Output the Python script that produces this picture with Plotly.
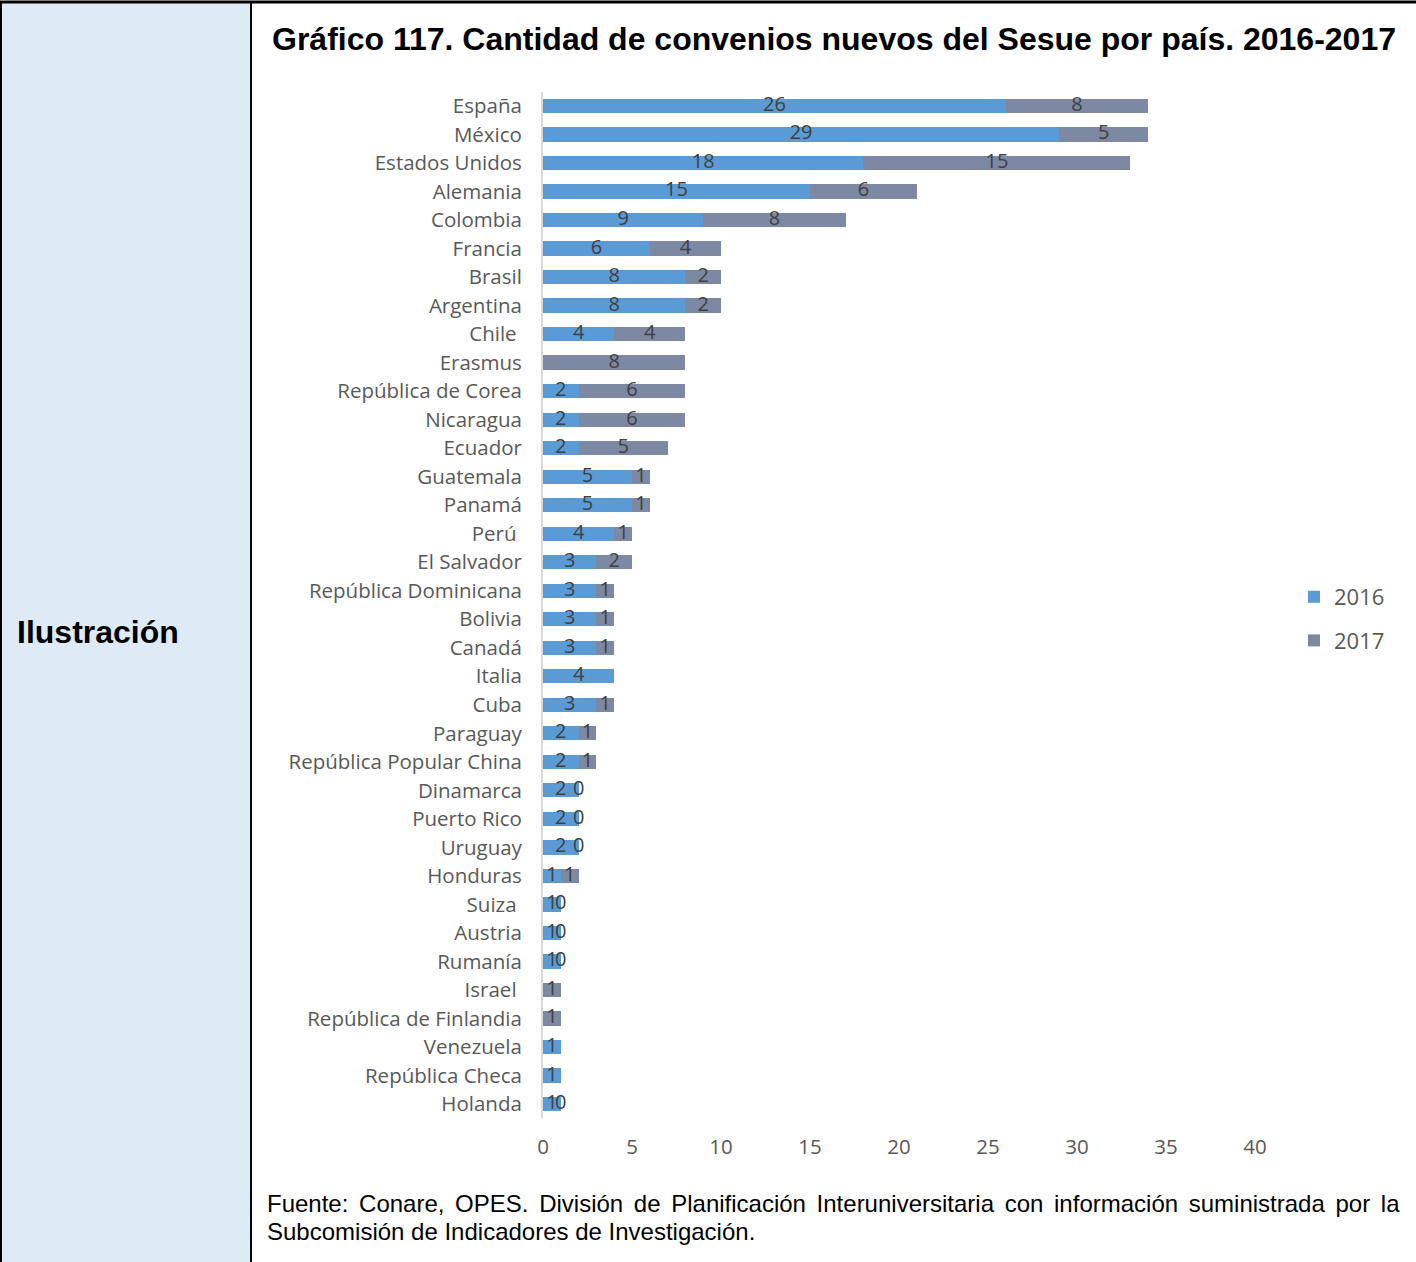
import plotly.graph_objects as go

W, H = 1416, 1262

paises = [
    "España", "México", "Estados Unidos", "Alemania", "Colombia", "Francia",
    "Brasil", "Argentina", "Chile\u00a0", "Erasmus", "República de Corea",
    "Nicaragua", "Ecuador", "Guatemala", "Panamá", "Perú\u00a0", "El Salvador",
    "República Dominicana", "Bolivia", "Canadá", "Italia", "Cuba", "Paraguay",
    "República Popular China", "Dinamarca", "Puerto Rico", "Uruguay",
    "Honduras", "Suiza\u00a0", "Austria", "Rumanía", "Israel\u00a0",
    "República de Finlandia", "Venezuela", "República Checa", "Holanda",
]
v2016 = [26, 29, 18, 15, 9, 6, 8, 8, 4, None, 2, 2, 2, 5, 5, 4, 3, 3, 3, 3,
         4, 3, 2, 2, 2, 2, 2, 1, 1, 1, 1, None, None, 1, 1, 1]
v2017 = [8, 5, 15, 6, 8, 4, 2, 2, 4, 8, 6, 6, 5, 1, 1, 1, 2, 1, 1, 1,
         None, 1, 1, 1, 0, 0, 0, 1, 0, 0, 0, 1, 1, None, None, 0]
x_ticks = [0, 5, 10, 15, 20, 25, 30, 35, 40]

azul = "#5B9BD5"
gris = "#7D88A3"
txt = "#595959"
fuente = "Open Sans"


def px(x):
    return x / W


def py(y):
    return 1 - y / H


fig = go.Figure()
fig.add_trace(go.Bar(y=paises, x=v2016, orientation="h", name="2016",
                     marker=dict(color=azul, line=dict(width=0)),
                     legendgroup="a"))
fig.add_trace(go.Bar(y=paises, x=v2017, orientation="h", name="2017",
                     marker=dict(color=gris, line=dict(width=0)),
                     legendgroup="b"))

# etiquetas de datos centradas en cada segmento
for serie, base_fn in ((v2016, lambda i: 0), (v2017, lambda i: v2016[i] or 0)):
    xs, ys, ts = [], [], []
    for i, v in enumerate(serie):
        if v is None:
            continue
        xs.append(base_fn(i) + v / 2)
        ys.append(paises[i])
        ts.append(str(v))
    fig.add_trace(go.Scatter(x=xs, y=ys, text=ts, mode="text",
                             textposition="middle center",
                             textfont=dict(family=fuente, size=20, color="#404040"),
                             showlegend=False, hoverinfo="skip"))

shapes = [
    dict(type="rect", xref="paper", yref="paper", x0=px(0), x1=px(251),
         y0=py(H), y1=py(2), fillcolor="#DEEAF6", line=dict(width=0), layer="below"),
    dict(type="line", xref="paper", yref="paper", x0=0, x1=1, y0=py(2), y1=py(2),
         line=dict(color="black", width=3)),
    dict(type="line", xref="paper", yref="paper", x0=px(1), x1=px(1), y0=0, y1=py(2),
         line=dict(color="black", width=2)),
    dict(type="line", xref="paper", yref="paper", x0=px(251), x1=px(251), y0=0, y1=py(2),
         line=dict(color="black", width=2)),
]

annotations = [
    dict(text="<b>Gráfico 117. Cantidad de convenios nuevos del Sesue por país. 2016-2017</b>",
         x=px(834), y=py(39), xref="paper", yref="paper", showarrow=False,
         xanchor="center", yanchor="middle",
         font=dict(family="Liberation Sans", size=32, color="black")),
    dict(text="<b>Ilustración</b>", x=px(15), y=py(632), xref="paper", yref="paper",
         showarrow=False, xanchor="left", yanchor="middle",
         font=dict(family="Liberation Sans", size=32, color="black")),
    dict(text="<span style=\"word-spacing:4px\">Fuente: Conare, OPES. División de Planificación Interuniversitaria con información suministrada por la</span>",
         x=px(265), y=py(1203), xref="paper", yref="paper", showarrow=False,
         xanchor="left", yanchor="middle",
         font=dict(family="Liberation Sans", size=24, color="black")),
    dict(text="Subcomisión de Indicadores de Investigación.",
         x=px(265), y=py(1231), xref="paper", yref="paper", showarrow=False,
         xanchor="left", yanchor="middle",
         font=dict(family="Liberation Sans", size=24, color="black")),
]

fig.update_layout(
    width=W, height=H, autosize=False,
    margin=dict(l=0, r=0, t=0, b=0, pad=0, autoexpand=False),
    paper_bgcolor="white", plot_bgcolor="white",
    barmode="stack", bargap=0.5,
    shapes=shapes, annotations=annotations,
    xaxis=dict(domain=[px(543), px(1255)], range=[0, 40], tickvals=x_ticks,
               showgrid=False, zeroline=False, showline=False, ticks="",
               ticklabelstandoff=14, automargin=False,
               tickfont=dict(family=fuente, size=20.5, color=txt), fixedrange=True),
    yaxis=dict(domain=[py(1118.3), py(91.7)],
               range=[len(paises) - 0.5, -0.5],
               showgrid=False, zeroline=False, showline=True,
               linecolor="#D9D9D9", linewidth=2, ticks="",
               ticklabelstandoff=15, automargin=False,
               tickfont=dict(family=fuente, size=20.5, color=txt)),
    legend=dict(x=px(1294), y=py(576), xanchor="left", yanchor="top",
                traceorder="grouped", tracegroupgap=12,
                font=dict(family=fuente, size=22, color=txt),
                bgcolor="rgba(0,0,0,0)", itemwidth=30),
    showlegend=True,
)

fig.write_html(
    "out.html",
    config={"displayModeBar": False, "responsive": False},
    post_script=(
        "document.body.style.margin='0';"
        "document.body.style.overflow='hidden';"
        "document.documentElement.style.overflow='hidden';"
    ),
)
